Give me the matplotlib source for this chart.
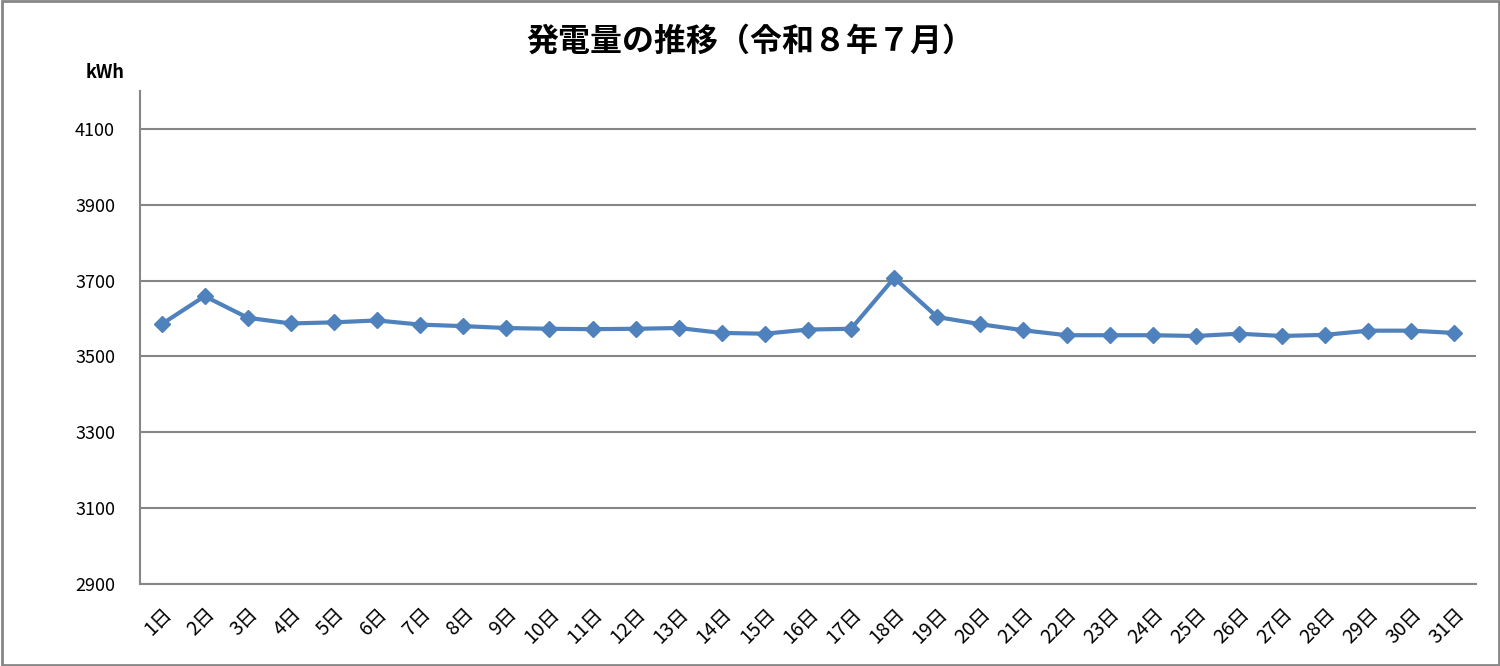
import matplotlib
matplotlib.use("Agg")
import matplotlib.pyplot as plt
from matplotlib.patches import Rectangle

plt.rcParams['font.family'] = ['Noto Sans CJK JP', 'DejaVu Sans']

days = [f"{d}日" for d in range(1, 32)]
kwh = [3585, 3659, 3602, 3587, 3590, 3595, 3584, 3580, 3575, 3573,
       3572, 3573, 3575, 3562, 3560, 3571, 3573, 3707, 3604, 3585,
       3569, 3556, 3556, 3556, 3554, 3560, 3554, 3557, 3568, 3568, 3562]
yticks = [2900, 3100, 3300, 3500, 3700, 3900, 4100]

fig = plt.figure(figsize=(15, 6.66), dpi=100)
ax = fig.add_axes([140/1500, 82/666, 1336/1500, 493/666])

x = list(range(1, 32))
ax.plot(x, kwh, color="#4F81BD", lw=3, marker="D", ms=8, zorder=3)

ax.set_xlim(0.5, 31.5)
ax.set_ylim(2900, 4200)
ax.set_yticks(yticks)
ax.yaxis.grid(True, color="#868686", lw=1.5)
ax.set_axisbelow(True)
ax.set_xticks(x)
ax.set_xticklabels(days, rotation=45, ha="right", rotation_mode="anchor", fontsize=14)
ax.tick_params(axis="y", labelsize=13, length=0, pad=18)
ax.tick_params(axis="x", length=0, pad=14)
for s in ["top", "right"]:
    ax.spines[s].set_visible(False)
for s in ["left", "bottom"]:
    ax.spines[s].set_color("#868686")
    ax.spines[s].set_linewidth(1.5)

fig.text(105/1500, 1 - 72/666, "kWh", ha="center", va="center", fontsize=13,
         fontweight="bold")
fig.text(0.5, 1 - 42/666, "発電量の推移（令和８年７月）", ha="center", va="center",
         fontsize=23, fontweight="bold")
fig.patches.append(Rectangle((0.001, 0.002), 0.998, 0.996, transform=fig.transFigure,
                             fill=False, edgecolor="#868686", lw=2))

plt.savefig("out.png", dpi=100)
plt.close()
